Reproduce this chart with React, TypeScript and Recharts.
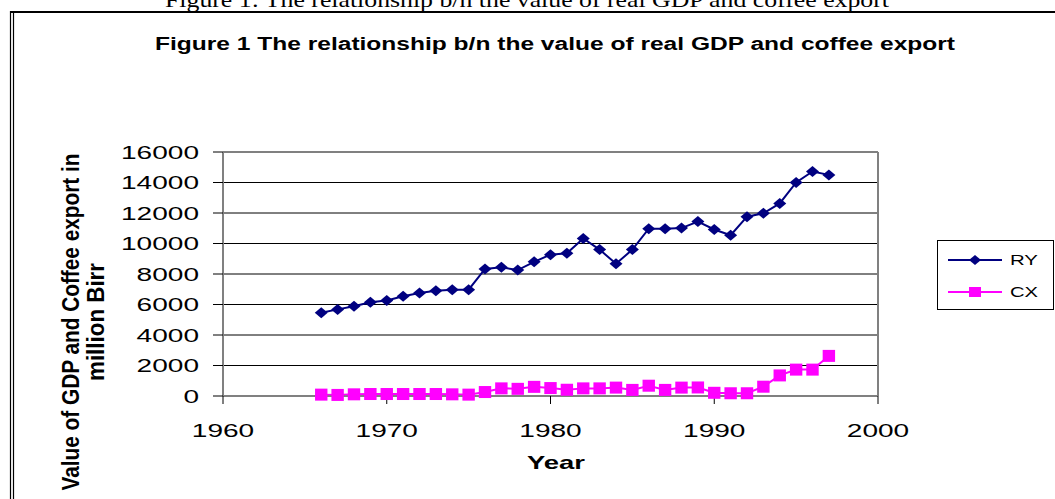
import React from 'react';
import { LineChart, Line, XAxis, YAxis, CartesianGrid, ReferenceLine } from 'recharts';

const years = [1966, 1967, 1968, 1969, 1970, 1971, 1972, 1973, 1974, 1975, 1976, 1977, 1978, 1979, 1980, 1981, 1982, 1983, 1984, 1985, 1986, 1987, 1988, 1989, 1990, 1991, 1992, 1993, 1994, 1995, 1996, 1997];
const ryValues = [5460, 5680, 5890, 6150, 6260, 6540, 6750, 6900, 6970, 6970, 8330, 8440, 8260, 8800, 9270, 9360, 10330, 9600, 8670, 9600, 10970, 10970, 11010, 11440, 10920, 10540, 11760, 11980, 12630, 14000, 14720, 14500];
const cxValues = [90, 70, 110, 130, 130, 130, 130, 130, 110, 90, 260, 500, 470, 600, 520, 410, 500, 500, 550, 400, 675, 400, 550, 560, 210, 180, 180, 610, 1350, 1730, 1730, 2630];
const xTicks = [1960, 1970, 1980, 1990, 2000];
const yTicks = [0, 2000, 4000, 6000, 8000, 10000, 12000, 14000, 16000];
const seriesNames = ['RY', 'CX'];
const seriesColors = ['#000080', '#FF00FF'];
const titleText = 'Figure 1 The relationship b/n the value of real GDP and coffee export';
const captionText = 'Figure 1: The relationship b/n the value of real GDP and coffee export';
const yLabelLines = ['Value of GDP and Coffee export in', 'million Birr'];
const xLabelText = 'Year';

const data = years.map((yr, i) => ({ year: yr, RY: ryValues[i], CX: cxValues[i] }));

const FONT = '"Liberation Sans", Arial, sans-serif';

const XTick = (props: any) => {
  const { x, y, payload } = props;
  const s = String(payload.value);
  return (
    <text x={x} y={y} dy={31} textAnchor="middle" fontFamily={FONT} fontSize={18.5} fill="#000"
      textLength={s.length * 15.6} lengthAdjust="spacingAndGlyphs">{s}</text>
  );
};

const YTick = (props: any) => {
  const { x, y, payload } = props;
  const s = String(payload.value);
  return (
    <text x={x} y={y} dy={6.5} textAnchor="end" fontFamily={FONT} fontSize={18.5} fill="#000"
      textLength={s.length * 15.6} lengthAdjust="spacingAndGlyphs">{s}</text>
  );
};

const Diamond = (props: any) => {
  const { cx, cy, index } = props;
  if (cx == null || cy == null) return <g key={`rd-${index}`} />;
  return (
    <polygon key={`rd-${index}`} points={`${cx - 6.5},${cy} ${cx},${cy - 5.5} ${cx + 6.5},${cy} ${cx},${cy + 5.5}`} fill="#000080" />
  );
};

const Square = (props: any) => {
  const { cx, cy, index } = props;
  if (cx == null || cy == null) return <g key={`cs-${index}`} />;
  return <rect key={`cs-${index}`} x={cx - 6.2} y={cy - 6} width={12.4} height={12} fill="#FF00FF" />;
};

const LegendBox = () => (
  <g transform="translate(937,240)">
    <rect x={0.5} y={0.5} width={116} height={69} fill="#fff" stroke="#000" strokeWidth={1} />
    {seriesNames.map((name, i) => {
      const cy = 20 + i * 32;
      return (
        <g key={name}>
          <line x1={11} x2={65} y1={cy} y2={cy} stroke={seriesColors[i]} strokeWidth={2} />
          {i === 0 ? (
            <polygon points={`${32},${cy} ${38},${cy - 5} ${44},${cy} ${38},${cy + 5}`} fill={seriesColors[i]} />
          ) : (
            <rect x={32} y={cy - 5} width={12} height={10} fill={seriesColors[i]} />
          )}
          <text x={73} y={cy + 5} fontFamily={FONT} fontSize={14} fill="#000" textLength={28}
            lengthAdjust="spacingAndGlyphs">{name}</text>
        </g>
      );
    })}
  </g>
);

export default function App() {
  return (
    <div style={{ position: 'absolute', left: 0, top: 0, width: 1055, height: 499, background: '#fff', overflow: 'hidden' }}>
      <svg width={1055} height={499} style={{ position: 'absolute', left: 0, top: 0 }}>
        <text x={165} y={7} fontFamily='"Liberation Serif", "Times New Roman", serif' fontSize={22} fill="#000"
          textLength={724} lengthAdjust="spacingAndGlyphs">{captionText}</text>
        <line x1={10} x2={1055} y1={12} y2={12} stroke="#000" strokeWidth={2} />
        <line x1={10.5} x2={10.5} y1={11} y2={499} stroke="#000" strokeWidth={1.2} />
        <line x1={13.5} x2={13.5} y1={13} y2={499} stroke="#000" strokeWidth={1.2} />
        <text x={155} y={50} fontFamily={FONT} fontWeight="bold" fontSize={18} fill="#000"
          textLength={800} lengthAdjust="spacingAndGlyphs">{titleText}</text>
        <text transform="translate(71,322) scale(1.2,1) rotate(-90)" x={0} y={0} dy={7} textAnchor="middle"
          fontFamily={FONT} fontWeight="bold" fontSize={20} fill="#000" textLength={337}
          lengthAdjust="spacingAndGlyphs">{yLabelLines[0]}</text>
        <text transform="translate(96,322) scale(1.2,1) rotate(-90)" x={0} y={0} dy={7} textAnchor="middle"
          fontFamily={FONT} fontWeight="bold" fontSize={20} fill="#000" textLength={118}
          lengthAdjust="spacingAndGlyphs">{yLabelLines[1]}</text>
        <text x={556} y={469} textAnchor="middle" fontFamily={FONT} fontWeight="bold" fontSize={19} fill="#000"
          textLength={58} lengthAdjust="spacingAndGlyphs">{xLabelText}</text>
        <LegendBox />
      </svg>
      <div style={{ position: 'absolute', left: 0, top: 0 }}>
        <LineChart width={1055} height={499} data={data}
          margin={{ top: 152, right: 177, bottom: 43, left: 143 }}>
          <CartesianGrid horizontal={true} vertical={false} stroke="#000" strokeWidth={1} />
          <XAxis dataKey="year" type="number" domain={[1960, 2000]} ticks={xTicks} height={60}
            tickSize={8} tickMargin={2} axisLine={{ stroke: '#808080', strokeWidth: 1.5 }}
            tickLine={{ stroke: '#000' }} tick={<XTick />} interval={0} />
          <YAxis type="number" domain={[0, 16000]} ticks={yTicks} width={80} tickSize={10} tickMargin={14}
            axisLine={{ stroke: '#808080', strokeWidth: 2 }} tickLine={{ stroke: '#000' }} tick={<YTick />} interval={0} />
          <ReferenceLine y={16000} stroke="#808080" strokeWidth={2} />
          <ReferenceLine x={2000} stroke="#808080" strokeWidth={2} />
          <Line type="linear" dataKey="RY" name={seriesNames[0]} stroke={seriesColors[0]} strokeWidth={2}
            dot={Diamond} activeDot={false} isAnimationActive={false} />
          <Line type="linear" dataKey="CX" name={seriesNames[1]} stroke={seriesColors[1]} strokeWidth={2}
            dot={Square} activeDot={false} isAnimationActive={false} />
        </LineChart>
      </div>
    </div>
  );
}
